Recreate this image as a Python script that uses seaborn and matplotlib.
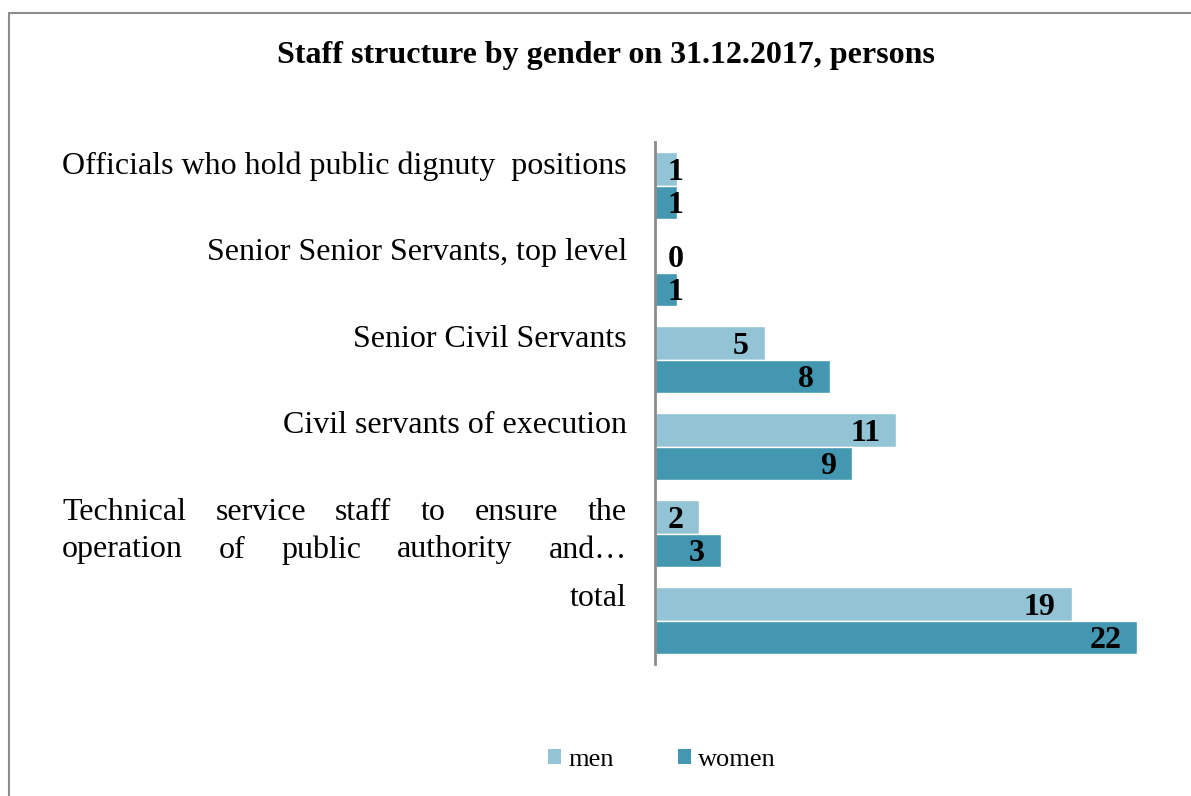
import pandas as pd
import matplotlib.pyplot as plt
import seaborn as sns
from matplotlib.patches import Rectangle, Patch

categories = [
    "Officials who hold public dignuty  positions",
    "Senior Senior Servants, top level",
    "Senior Civil Servants",
    "Civil servants of execution",
    "Technical service staff to ensure the operation of public authority and\u2026",
    "total",
]
men = [1, 0, 5, 11, 2, 19]
women = [1, 1, 8, 9, 3, 22]
genders = ["men", "women"]
colors = {"men": "#93c4d5", "women": "#4397b0"}

title = "Staff structure by gender on 31.12.2017, persons"

df = pd.DataFrame({
    "category": categories * 2,
    "gender": ["men"] * len(categories) + ["women"] * len(categories),
    "persons": men + women,
})

sns.set_style("white")
plt.rcParams["font.family"] = ["Liberation Serif", "DejaVu Serif"]
plt.rcParams["text.color"] = "black"

W, H = 1191, 796
fig = plt.figure(figsize=(W / 100, H / 100), dpi=100)

# outer chart border (cut off on the right and bottom in the reference)
fig.patches.append(Rectangle((9 / W, -0.1), 1.2, 1.1 - 13 / H, transform=fig.transFigure,
                             fill=False, edgecolor="#8c8c8c", linewidth=1.5))

ax = fig.add_axes([655 / W, 1 - 664 / H, 24 * 21.93 / W, 522 / H])
sns.barplot(data=df, y="category", x="persons", hue="gender", hue_order=genders,
            palette=colors, orient="h", width=0.76, saturation=1, legend=False, ax=ax)

ax.set_xlim(0, 24)
ax.set_ylim(5.5, -0.5)
ax.set_xticks([])
ax.set_yticks([])
ax.set_xlabel("")
ax.set_ylabel("")
for s in ["top", "right", "bottom"]:
    ax.spines[s].set_visible(False)
ax.spines["left"].set_color("#8c8c8c")
ax.spines["left"].set_linewidth(2)

# value labels: inside end, pushed right of the axis when the bar is too short
px = 21.93
for cont, vals in zip(ax.containers, [men, women]):
    for bar, v in zip(cont, vals):
        yc = bar.get_y() + bar.get_height() / 2
        t = f"{v}"
        tw = 15 * len(t)
        if v * px - 16 - tw < 13:
            ax.annotate(t, xy=(0, yc), xytext=(13, 0), textcoords="offset pixels",
                        ha="left", va="center_baseline", fontsize=23, fontweight="bold")
        else:
            ax.annotate(t, xy=(v, yc), xytext=(-16, 0), textcoords="offset pixels",
                        ha="right", va="center_baseline", fontsize=23, fontweight="bold")

# category labels, right-aligned left of the axis
lab_fs = 23
xr = 627 / W
for i, c in enumerate(categories):
    if c.startswith("Technical"):
        continue
    y_px = 186 + i * 86.6 - 20
    fig.text(xr, 1 - y_px / H, c, ha="right", va="center", fontsize=lab_fs)

# justified two-line label
fig.canvas.draw()
renderer = fig.canvas.get_renderer()
lines = ["Technical service staff to ensure the", "operation of public authority and\u2026"]
xl = 62
for line, y_px in zip(lines, [513, 550]):
    words = line.split()
    texts = [fig.text(0, 1 - y_px / H, w_, ha="left", va="center", fontsize=lab_fs) for w_ in words]
    widths = [t.get_window_extent(renderer).width for t in texts]
    gap = (627 - xl - sum(widths)) / (len(words) - 1)
    x = xl
    for t, w_ in zip(texts, widths):
        t.set_x(x / W)
        x += w_ + gap

fig.text(606 / W, 1 - 56 / H, title, ha="center", va="center", fontsize=23, fontweight="bold")

handles = [Patch(facecolor=colors[g], edgecolor="none") for g in genders]
fig.legend(handles, genders, loc="center", bbox_to_anchor=(662 / W, 1 - 760 / H), ncol=2,
           frameon=False, fontsize=19, handlelength=0.5, handleheight=0.5,
           handletextpad=0.28, columnspacing=2.4)

fig.savefig("out.png", dpi=100)
